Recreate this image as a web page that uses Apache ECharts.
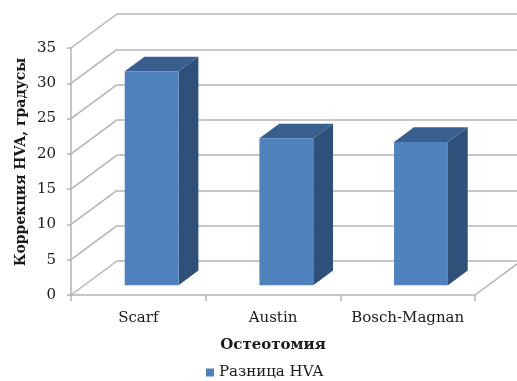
<!DOCTYPE html>
<html>
<head>
<meta charset="utf-8">
<script src="https://cdn.jsdelivr.net/npm/echarts@6/dist/echarts.min.js"></script>
<style>
  html, body { margin: 0; padding: 0; background: #fff; }
  #chart { width: 517px; height: 381px; }
</style>
</head>
<body>
<div id="chart"></div>
<script>
// Osteotomy types and HVA correction values (degrees)
var categories = ['Scarf', 'Austin', 'Bosch-Magnan'];
var hvaCorrection = [30.3, 20.8, 20.3];
var yTicks = [0, 5, 10, 15, 20, 25, 30, 35];

var seriesName = 'Разница HVA';
var yTitle = 'Коррекция HVA, градусы';
var xTitle = 'Остеотомия';

// Oblique depth of the pseudo-3D box (pixels from front plane to back wall)
var DEPTH_X = 46, DEPTH_Y = -34;
// Bars occupy the middle slab of the depth
var BAR_D1 = 0.29, BAR_D2 = 0.72;
var BAR_WIDTH_RATIO = 0.40;

var FONT = '"DejaVu Serif", "Liberation Serif", serif';
var GRID_COLOR = '#B4B4B4';
var TEXT_COLOR = '#1a1a1a';

var chart = echarts.init(document.getElementById('chart'), null, { renderer: 'canvas' });

function sideWalls(params, api) {
  var v = api.value(0);
  var band = api.size([1, 0])[0];
  var p = api.coord([0, v]);
  var xl = p[0] - band / 2;
  var children = [{
    type: 'line',
    shape: { x1: xl, y1: p[1], x2: xl + DEPTH_X, y2: p[1] + DEPTH_Y },
    style: { stroke: GRID_COLOR, lineWidth: 1.5 }
  }];
  if (v === 0) {
    var q = api.coord([categories.length - 1, 0]);
    var xr = q[0] + band / 2;
    children.push({
      type: 'line',
      shape: { x1: xr, y1: q[1], x2: xr + DEPTH_X, y2: q[1] + DEPTH_Y },
      style: { stroke: GRID_COLOR, lineWidth: 1.5 }
    });
  }
  return { type: 'group', children: children };
}

function bar3d(params, api) {
  var idx = api.value(0);
  var val = api.value(1);
  var base = api.coord([idx, 0]);
  var top = api.coord([idx, val]);
  var bw = api.size([1, 0])[0] * BAR_WIDTH_RATIO;
  var ox1 = DEPTH_X * BAR_D1, oy1 = DEPTH_Y * BAR_D1;
  var ox2 = DEPTH_X * BAR_D2, oy2 = DEPTH_Y * BAR_D2;
  var xl = base[0] - bw / 2, xr = base[0] + bw / 2;
  var yb = base[1], yt = top[1];
  return {
    type: 'group',
    children: [
      {
        type: 'polygon',
        shape: { points: [[xr + ox1, yt + oy1], [xr + ox2, yt + oy2], [xr + ox2, yb + oy2], [xr + ox1, yb + oy1]] },
        style: { fill: '#2F5079' }
      },
      {
        type: 'polygon',
        shape: { points: [[xl + ox1, yt + oy1], [xr + ox1, yt + oy1], [xr + ox2, yt + oy2], [xl + ox2, yt + oy2]] },
        style: { fill: '#395F8E' }
      },
      {
        type: 'rect',
        shape: { x: xl + ox1, y: yt + oy1, width: bw, height: yb - yt },
        style: { fill: '#4F81BD' }
      }
    ]
  };
}

var option = {
  animation: false,
  backgroundColor: '#fff',
  textStyle: { fontFamily: FONT },
  grid: [
    { left: 71, top: 48, width: 404, height: 247 },
    { left: 71 + DEPTH_X, top: 48 + DEPTH_Y, width: 404, height: 247 }
  ],
  legend: {
    data: [{ name: seriesName, icon: 'rect' }],
    left: 201,
    top: 360,
    itemWidth: 8,
    itemHeight: 8,
    itemGap: 4,
    textStyle: { fontFamily: FONT, fontSize: 15, color: TEXT_COLOR }
  },
  graphic: [{
    type: 'text',
    x: 21,
    y: 162,
    rotation: Math.PI / 2,
    style: {
      text: yTitle,
      font: 'bold 14px ' + FONT,
      fill: TEXT_COLOR,
      align: 'center',
      verticalAlign: 'middle'
    }
  }],
  xAxis: [
    {
      gridIndex: 0,
      type: 'category',
      data: categories,
      boundaryGap: true,
      name: xTitle,
      nameLocation: 'middle',
      nameGap: 43,
      nameTextStyle: { fontFamily: FONT, fontSize: 15, fontWeight: 'bold', color: TEXT_COLOR },
      axisLine: { show: true, lineStyle: { color: GRID_COLOR, width: 1.5 } },
      axisTick: { show: true, alignWithLabel: false, length: 6, lineStyle: { color: GRID_COLOR, width: 1.5 } },
      axisLabel: { interval: 0, fontFamily: FONT, fontSize: 15, color: TEXT_COLOR, margin: 16 },
      splitLine: { show: false }
    },
    {
      gridIndex: 1,
      type: 'category',
      data: categories,
      show: false
    }
  ],
  yAxis: [
    {
      gridIndex: 0,
      type: 'value',
      min: 0,
      max: 35,
      interval: 5,
      axisLine: { show: true, lineStyle: { color: GRID_COLOR, width: 1.5 } },
      axisTick: { show: true, inside: false, length: 4, lineStyle: { color: GRID_COLOR, width: 1.5 } },
      axisLabel: { fontFamily: FONT, fontSize: 15, color: TEXT_COLOR, margin: 15 },
      splitLine: { show: false }
    },
    {
      gridIndex: 1,
      type: 'value',
      min: 0,
      max: 35,
      interval: 5,
      axisLine: { show: false },
      axisTick: { show: false },
      axisLabel: { show: false },
      splitLine: { show: true, lineStyle: { color: GRID_COLOR, width: 1.5 } }
    }
  ],
  series: [
    {
      type: 'custom',
      xAxisIndex: 0,
      yAxisIndex: 0,
      renderItem: sideWalls,
      data: yTicks.map(function (t) { return [t]; }),
      encode: { y: 0 },
      silent: true,
      z: 1,
      legendHoverLink: false
    },
    {
      name: seriesName,
      type: 'custom',
      xAxisIndex: 0,
      yAxisIndex: 0,
      renderItem: bar3d,
      itemStyle: { color: '#4F81BD' },
      data: hvaCorrection.map(function (v, i) { return [i, v]; }),
      encode: { x: 0, y: 1 },
      z: 5
    }
  ]
};

chart.setOption(option);
</script>
</body>
</html>
